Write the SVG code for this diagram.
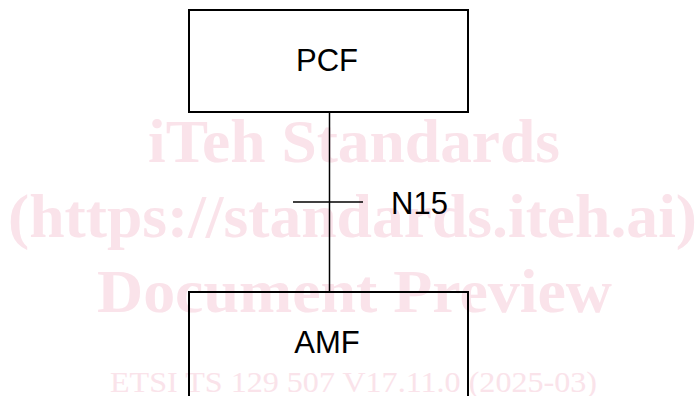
<svg xmlns="http://www.w3.org/2000/svg" width="699" height="396" viewBox="0 0 699 396">
  <style>
    .box { fill: none; stroke: #000; stroke-width: 2; }
    .link { stroke: #000; stroke-width: 1.5; fill: none; }
    .label { font-family: "Liberation Sans", Arial, sans-serif; font-size: 31px; fill: #000; }
    .wm { font-family: "Liberation Serif", "Times New Roman", serif; font-weight: bold; font-size: 62px; fill: #fae3ea; }
    .wm-small { font-family: "Liberation Serif", "Times New Roman", serif; font-size: 29px; fill: #fae3ea; }
  </style>
  <rect width="699" height="396" fill="#fff"/>

  <!-- background stamp -->
  <g id="watermark">
    <text class="wm" x="148" y="162" textLength="412" lengthAdjust="spacingAndGlyphs">iTeh Standards</text>
    <text class="wm" x="8" y="237" textLength="689" lengthAdjust="spacingAndGlyphs">(https://standards.iteh.ai)</text>
    <text class="wm" x="97" y="312" textLength="515" lengthAdjust="spacingAndGlyphs">Document Preview</text>
    <text class="wm-small" x="110" y="392" textLength="487" lengthAdjust="spacingAndGlyphs">ETSI TS 129 507 V17.11.0 (2025-03)</text>
  </g>

  <g id="connectors">
    <line class="link" x1="329.5" y1="112" x2="329.5" y2="292"/>
    <line class="link" x1="293" y1="202" x2="363" y2="202"/>
    <text class="label" x="391" y="214">N15</text>
  </g>

  <g id="pcf">
    <rect class="box" x="189" y="10" width="279" height="102"/>
    <text class="label" x="327" y="71" text-anchor="middle">PCF</text>
  </g>

  <g id="amf">
    <rect class="box" x="189" y="292" width="279" height="110"/>
    <text class="label" x="327" y="353" text-anchor="middle">AMF</text>
  </g>
</svg>
